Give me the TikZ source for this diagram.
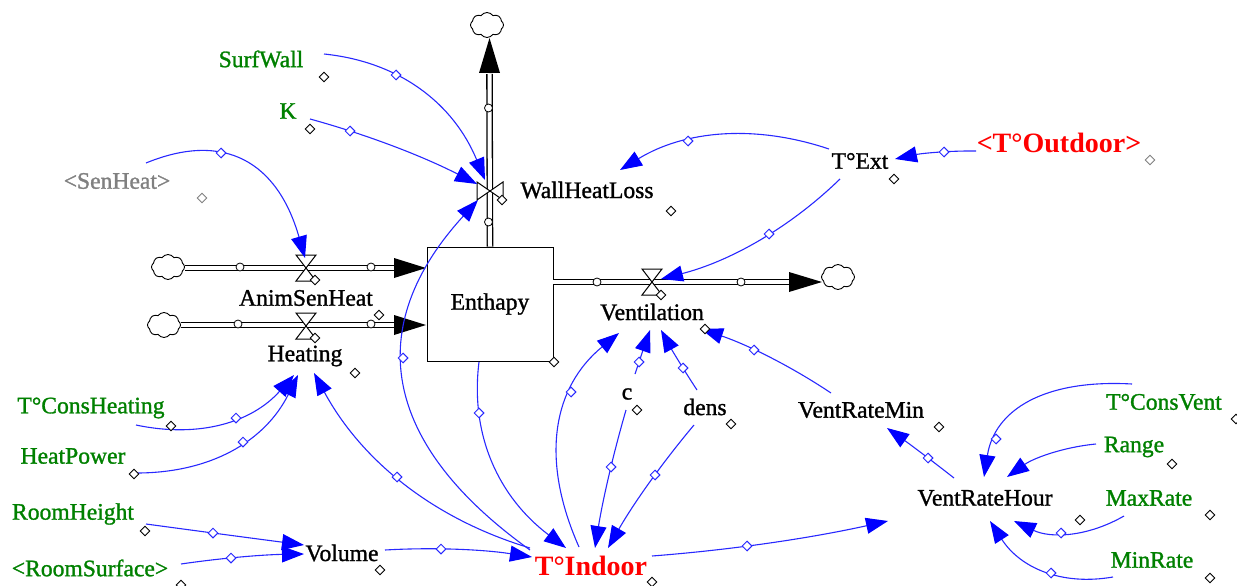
\documentclass[tikz,border=0pt]{standalone}
\usepackage{fontspec}
\setmainfont[FakeBold=1.2]{Liberation Serif}
\newfontfamily\hotfont{Liberation Serif Bold}
\usetikzlibrary{arrows.meta,calc,shapes.geometric,shapes.symbols}
\definecolor{linkblue}{RGB}{40,40,255}
\definecolor{vargreen}{RGB}{0,128,0}
\tikzset{
  lab/.style={inner sep=0pt,font=\fontsize{23.6}{23.6}\selectfont,text=black},
  constant/.style={lab,text=vargreen},
  shadow/.style={lab,text=gray},
  hot/.style={inner sep=0pt,font=\fontsize{28}{28}\selectfont\hotfont,text=red},
  hotshadow/.style={hot,font=\fontsize{28}{28}\selectfont\hotfont},
  stock/.style={draw=black,fill=white,line width=.9pt,minimum width=126pt,minimum height=114pt,inner sep=0pt,font=\fontsize{23.6}{23.6}\selectfont},
  link/.style={draw=linkblue,line width=1.1pt,-{Triangle[length=22pt,width=16pt,color=blue]}},
  handle/.style={diamond,draw=linkblue,fill=white,line width=1pt,minimum width=10pt,minimum height=10pt,inner sep=0pt},
  pipehandle/.style={circle,draw=black,fill=white,line width=.8pt,minimum size=8pt,inner sep=0pt},
  vardot/.style={diamond,draw=black,fill=white,line width=.9pt,minimum width=10pt,minimum height=10pt,inner sep=0pt},
  greydot/.style={vardot,draw=gray},
  pipe/.style={draw=black,line width=1.3pt,double=white,double distance=4pt},
  wolk/.style={cloud,draw=black,fill=white,line width=.9pt,cloud puffs=8,cloud puff arc=110,aspect=1.3,minimum width=33pt,minimum height=25pt,inner sep=0pt},
  valve/.style={draw=black,fill=white,line width=1pt},
}
% arc from node to node through the handle point: quadratic with the handle at a chord-proportional parameter
\newcommand{\arcpts}[8]{%
  \coordinate (S) at ([shift={(#2,#3)}]#1.center);
  \coordinate (E) at ([shift={(#7,#8)}]#6.center);
  \coordinate (H) at (#4,#5);
  \path let \p1=(S),\p2=(H),\p3=(E) in \pgfextra{%
    \pgfmathsetmacro\da{veclen(\x2-\x1,\y2-\y1)}%
    \pgfmathsetmacro\db{veclen(\x3-\x2,\y3-\y2)}%
    \pgfmathsetmacro\tv{\da/(\da+\db)}%
    \pgfmathsetmacro\cx{(\x2-(1-\tv)*(1-\tv)*\x1-\tv*\tv*\x3)/(2*\tv*(1-\tv))}%
    \pgfmathsetmacro\cy{(\y2-(1-\tv)*(1-\tv)*\y1-\tv*\tv*\y3)/(2*\tv*(1-\tv))}%
    \xdef\ccx{\cx}\xdef\ccy{\cy}};
  \coordinate (C) at (\ccx pt,\ccy pt);
}
\newcommand{\lnk}[8]{\arcpts{#1}{#2}{#3}{#4}{#5}{#6}{#7}{#8}%
  \draw[link] (S) .. controls ($(S)!0.667!(C)$) and ($(E)!0.667!(C)$) .. (E);
  \node[handle] (h#1#6) at (H) {};
}
\newcommand{\lnkn}[8]{\arcpts{#1}{#2}{#3}{#4}{#5}{#6}{#7}{#8}%
  \draw[link] (S) .. controls ($(S)!0.667!(C)$) and ($(E)!0.667!(C)$) .. (E);
}
\begin{document}
\begin{tikzpicture}[x=1pt,y=-1pt]
\useasboundingbox (0,0) rectangle (1237,586);
% stock and clouds
\node[stock] (box) at (490,304) {\raisebox{-3pt}{Enthapy}};
\node[wolk] (cloudTop) at (487,25) {};
\node[wolk] (cloudA) at (168,267) {};
\node[wolk] (cloudB) at (164,325) {};
\node[wolk] (cloudC) at (838,277) {};
\coordinate (wallV) at (489,191);
\coordinate (valveA) at (305,268);
\coordinate (valveB) at (305,325);
\coordinate (valveC) at (652,282);
\coordinate (headTop) at (489.5,74);
\coordinate (headA) at (395,268);
\coordinate (headB) at (395,325);
\coordinate (headC) at (790,282);
% pipes
\draw[pipe] (box.north) -- (headTop);
\draw[pipe] (cloudA.east |- valveA) -- (headA);
\draw[pipe] (cloudB.east |- valveB) -- (headB);
\draw[pipe] (box.east |- valveC) -- (headC);
\fill[black] (479,73) -- (500,73) -- (489.5,38) -- cycle;
\fill[black] (394,258) -- (394,278) -- (426,268) -- cycle;
\fill[black] (394,315) -- (394,335) -- (426,325) -- cycle;
\fill[black] (789,272) -- (789,292) -- (822,282) -- cycle;
% valves
\draw[valve] (477,182) -- (477,200) -- (503,182) -- (503,200) -- cycle;
\draw[valve] (296,255) -- (316,255) -- (296,281) -- (316,281) -- cycle;
\draw[valve] (296,313) -- (316,313) -- (296,339) -- (316,339) -- cycle;
\draw[valve] (642,269) -- (662,269) -- (642,295) -- (662,295) -- cycle;
% pipe handles
\foreach \x/\y [count=\i] in {488.5/108,488.5/222,240/267,371/267,238/324,371/324,597/282,741/282}
  \node[pipehandle] (ph\i) at (\x,\y) {};
% variables
\node[constant] (SurfWall) at (261,59) {SurfWall};
\node[constant] (K) at (288,111) {K};
\node[shadow] (SenHeat) at (117,181) {<SenHeat>};
\node[lab] (WallHeatLoss) at (587,190) {WallHeatLoss};
\node[lab] (Ext) at (860,161) {T°Ext};
\node[hotshadow] (Outdoor) at (1059,143) {<T°Outdoor>};
\node[lab] (AnimSenHeat) at (306,298) {AnimSenHeat};
\node[lab] (Heating) at (305,356) {Heating};
\node[lab] (Ventilation) at (652,312) {Ventilation};
\node[constant] (ConsHeating) at (91,408) {T°ConsHeating};
\node[constant] (HeatPower) at (73,456) {HeatPower};
\node[constant] (RoomHeight) at (73,514) {RoomHeight};
\node[constant] (RoomSurface) at (90,568) {<RoomSurface>};
\node[lab] (Volume) at (342,553) {Volume};
\node[hot] (Indoor) at (591,566) {T°Indoor};
\node[lab] (c) at (627,394) {c};
\node[lab] (dens) at (705,407) {dens};
\node[lab] (VentRateMin) at (861,410) {VentRateMin};
\node[lab] (VentRateHour) at (985,498) {VentRateHour};
\node[constant] (ConsVent) at (1164,402) {T°ConsVent};
\node[constant] (Range) at (1134,447) {Range};
\node[constant] (MaxRate) at (1149,498) {MaxRate};
\node[constant] (MinRate) at (1152,560) {MinRate};
% links
\lnk{SurfWall}{63}{-5}{396}{75}{wallV}{-4}{-11}
\lnk{K}{22}{8}{350}{131}{wallV}{-12}{-7}
\lnk{SenHeat}{29}{-18}{221}{153}{valveA}{0}{-10}
\lnk{Indoor}{-61}{-16}{403}{358}{wallV}{-11}{9}
\lnk{Ext}{-31}{-12}{688}{141}{WallHeatLoss}{33}{-20}
\lnk{Outdoor}{-83}{8}{944}{152}{Ext}{35}{-2}
\lnk{Ext}{-20}{18}{769}{234}{valveC}{9}{-3}
\lnk{ConsHeating}{45}{17}{236}{418}{Heating}{-11}{19}
\lnk{HeatPower}{61}{17}{243}{442}{Heating}{-7}{19}
\lnk{Indoor}{-61}{-18}{397}{477}{Heating}{9}{17}
\lnk{box}{-11}{58}{479}{413}{Indoor}{-25}{-18}
\lnk{RoomHeight}{73}{10}{213}{533}{Volume}{-38}{-8}
\lnk{RoomSurface}{91}{-4}{231}{558}{Volume}{-38}{1}
\lnk{Volume}{43}{-3}{441}{549}{Indoor}{-59}{-9}
\lnk{Indoor}{-12}{-19}{571}{392}{Ventilation}{-33}{21}
\lnk{c}{8}{-20}{639}{362}{Ventilation}{-2}{18}
\lnk{c}{-1}{16}{611}{467}{Indoor}{4}{-18}
\lnk{dens}{-8}{-17}{683}{368}{Ventilation}{9}{18}
\lnk{dens}{-11}{18}{655}{475}{Indoor}{17}{-18}
\lnk{VentRateMin}{-30}{-17}{754}{350}{Ventilation}{49}{17}
\lnk{VentRateHour}{-31}{-20}{928}{458}{VentRateMin}{26}{18}
\lnk{Indoor}{61}{-10}{747}{546}{VentRateHour}{-97}{23}
\lnk{ConsVent}{-32}{-18}{996}{439}{VentRateHour}{-1}{-21}
\lnkn{Range}{-38}{-3}{1043}{457}{VentRateHour}{22}{-21}
\lnk{MaxRate}{-25}{18}{1061}{533}{VentRateHour}{29}{23}
\lnk{MinRate}{-39}{17}{1051}{573}{VentRateHour}{5}{23}
% variable markers
\foreach \x/\y [count=\i] in {324/77,310/129,502/200,671/211,894/179,315/280,379/315,315/338,355/373,554/362,661/295,705/329,171/426,134/474,145/531,380/570,652/582,637/410,731/424,939/427,1236/419,1172/464,1080/520,1210/515,1210/578,181/585}
  \node[vardot] (d\i) at (\x,\y) {};
\node[greydot] (dSenHeat) at (202,198) {};
\node[greydot] (dOutdoor) at (1150,160) {};
\end{tikzpicture}
\end{document}
